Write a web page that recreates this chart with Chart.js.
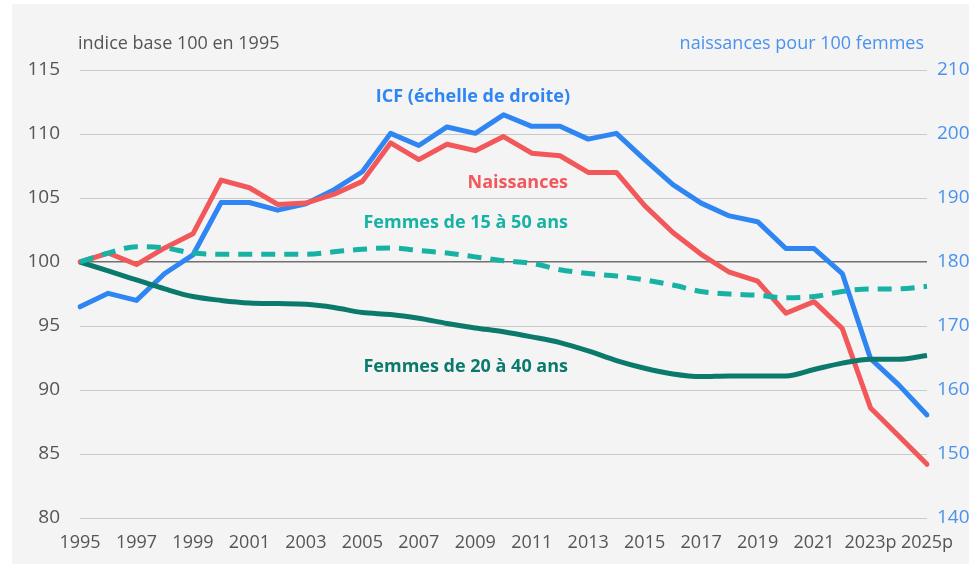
<!DOCTYPE html>
<html>
<head>
<meta charset="utf-8">
<script src="https://cdn.jsdelivr.net/npm/chart.js@4.4.1/dist/chart.umd.min.js"></script>
<style>
  html, body { margin: 0; padding: 0; background: #ffffff; }
  #panel { position: absolute; left: 12px; top: 4px; width: 957px; height: 560px; background: #f4f4f4; }
  #wrap { position: absolute; left: 0; top: 0; width: 969px; height: 566px; }
</style>
</head>
<body>
<div id="panel"></div>
<div id="wrap"><canvas id="fecondChart" width="969" height="566"></canvas></div>
<script>
// années (2023 à 2025 : provisoires)
const annees = ['1995', '1996', '1997', '1998', '1999', '2000', '2001', '2002', '2003', '2004',
    '2005', '2006', '2007', '2008', '2009', '2010', '2011', '2012', '2013', '2014',
    '2015', '2016', '2017', '2018', '2019', '2020', '2021', '2022', '2023p', '2024p', '2025p'];

// indice base 100 en 1995
const naissances = [100, 100.7, 99.8, 101.1, 102.2, 106.4, 105.8, 104.5, 104.6, 105.3,
    106.3, 109.3, 108.0, 109.2, 108.7, 109.8, 108.5, 108.3, 107.0, 107.0,
    104.4, 102.3, 100.6, 99.2, 98.5, 96.0, 96.9, 94.8, 88.6, 86.4, 84.2];

const femmes15a50 = [100, 100.7, 101.2, 101.1, 100.7, 100.6, 100.6, 100.6, 100.6, 100.8,
    101.0, 101.1, 100.9, 100.7, 100.4, 100.1, 99.9, 99.4, 99.1, 98.9,
    98.6, 98.2, 97.7, 97.5, 97.4, 97.2, 97.3, 97.7, 97.9, 97.9, 98.1];

const femmes20a40 = [100, 99.3, 98.6, 97.9, 97.3, 97.0, 96.8, 96.75, 96.7, 96.45,
    96.05, 95.9, 95.6, 95.2, 94.85, 94.55, 94.15, 93.7, 93.05, 92.3,
    91.7, 91.25, 91.05, 91.1, 91.1, 91.1, 91.6, 92.1, 92.4, 92.4, 92.7];

// naissances pour 100 femmes (échelle de droite)
const icf = [173.0, 175.1, 174.0, 178.2, 181.1, 189.3, 189.3, 188.1, 189.1, 191.3,
    194.1, 200.1, 198.2, 201.1, 200.1, 203.0, 201.2, 201.2, 199.2, 200.1,
    196.0, 192.1, 189.2, 187.2, 186.3, 182.1, 182.1, 178.2, 164.9, 160.8, 156.1];

const ticksGauche = [80, 85, 90, 95, 100, 105, 110, 115];
const ticksDroite = [140, 150, 160, 170, 180, 190, 200, 210];

const police = "'Open Sans', 'Liberation Sans', sans-serif";
const rouge = '#f2575a';
const bleu = '#2f86f3';
const turquoise = '#17b2a3';
const vertFonce = '#0b7a6d';

// titres d'axes et étiquettes des séries
const textesPlugin = {
    id: 'textes',
    afterDatasetsDraw(chart) {
        const c = chart.ctx;
        c.save();
        c.textBaseline = 'middle';
        c.font = '18px ' + police;
        c.fillStyle = '#555555';
        c.textAlign = 'left';
        c.fillText('indice base 100 en 1995', 78, 44);
        c.fillStyle = '#4a92ec';
        c.textAlign = 'right';
        c.fillText('naissances pour 100 femmes', 924, 44);

        c.font = 'bold 18px ' + police;
        c.fillStyle = bleu;
        c.fillText('ICF (échelle de droite)', 570, 97);
        c.fillStyle = rouge;
        c.fillText('Naissances', 568, 183);
        c.fillStyle = turquoise;
        c.fillText('Femmes de 15 à 50 ans', 568, 223);
        c.fillStyle = vertFonce;
        c.fillText('Femmes de 20 à 40 ans', 568, 367);
        c.restore();
    }
};

const ctx = document.getElementById('fecondChart').getContext('2d');
const chart = new Chart(ctx, {
    type: 'line',
    data: {
        labels: annees,
        datasets: [
            {
                label: 'Femmes de 15 à 50 ans',
                data: femmes15a50,
                borderColor: turquoise,
                borderWidth: 5,
                borderDash: [14, 9],
                tension: 0.4,
                cubicInterpolationMode: 'monotone',
                pointRadius: 0,
                yAxisID: 'y'
            },
            {
                label: 'Femmes de 20 à 40 ans',
                data: femmes20a40,
                borderColor: vertFonce,
                borderWidth: 5,
                cubicInterpolationMode: 'monotone',
                pointRadius: 0,
                yAxisID: 'y'
            },
            {
                label: 'Naissances',
                data: naissances,
                borderColor: rouge,
                borderWidth: 5,
                tension: 0,
                pointRadius: 0,
                borderJoinStyle: 'round',
                borderCapStyle: 'round',
                yAxisID: 'y'
            },
            {
                label: 'ICF (échelle de droite)',
                data: icf,
                borderColor: bleu,
                borderWidth: 5,
                tension: 0,
                pointRadius: 0,
                borderJoinStyle: 'round',
                borderCapStyle: 'round',
                yAxisID: 'y1'
            }
        ]
    },
    options: {
        responsive: false,
        animation: false,
        layout: { padding: { top: 70, left: 0, right: 0, bottom: 0 } },
        plugins: {
            legend: { display: false },
            tooltip: { enabled: false }
        },
        scales: {
            x: {
                offset: false,
                border: { display: false },
                grid: { display: false, drawTicks: false },
                afterFit(scale) { scale.height = 48; },
                ticks: {
                    autoSkip: false,
                    maxRotation: 0,
                    padding: 14,
                    color: '#555555',
                    font: { family: police, size: 18 },
                    callback(val, i) { return i % 2 === 0 ? annees[i] : ''; }
                }
            },
            y: {
                position: 'left',
                min: 80,
                max: 115,
                border: { display: false },
                afterFit(scale) { scale.width = 80; },
                afterBuildTicks(scale) { scale.ticks = ticksGauche.map(v => ({ value: v })); },
                grid: {
                    drawTicks: false,
                    color: (c) => c.tick && c.tick.value === 100 ? '#707070' : '#c9c9c9',
                    lineWidth: (c) => c.tick && c.tick.value === 100 ? 1.6 : 1
                },
                ticks: {
                    padding: 20,
                    color: '#555555',
                    font: { family: police, size: 19 }
                }
            },
            y1: {
                position: 'right',
                min: 140,
                max: 210,
                border: { display: false },
                afterFit(scale) { scale.width = 42; },
                afterBuildTicks(scale) { scale.ticks = ticksDroite.map(v => ({ value: v })); },
                grid: { display: false, drawTicks: false },
                ticks: {
                    padding: 10,
                    color: '#4a92ec',
                    font: { family: police, size: 19 }
                }
            }
        }
    },
    plugins: [textesPlugin]
});
</script>
</body>
</html>
